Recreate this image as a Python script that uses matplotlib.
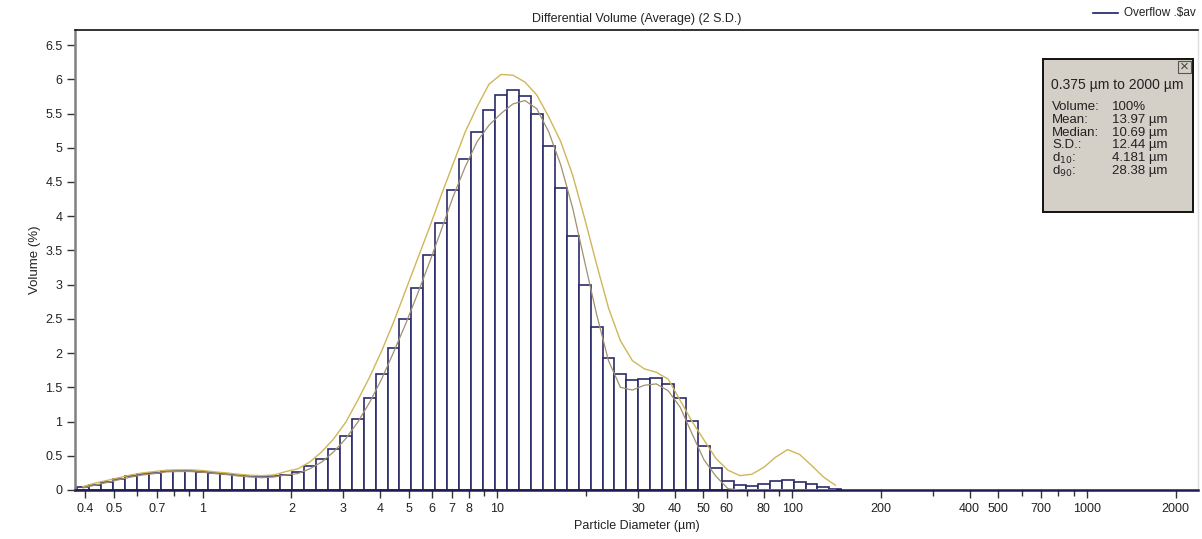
import numpy as np
import matplotlib.pyplot as plt
from matplotlib.lines import Line2D
from matplotlib.patches import Rectangle
from matplotlib.ticker import FixedLocator, NullFormatter

plt.rcParams['font.family'] = ['Liberation Sans', 'DejaVu Sans']

# LS 13 320 channels: 92 log-spaced classes from 0.375 to 2000 um
size_min, size_max, n_channels = 0.375, 2000.0, 92

# differential volume (%) of the first 64 channels (the rest are empty)
volume = [
    0.04, 0.08, 0.12, 0.16, 0.20, 0.23, 0.25, 0.276, 0.276, 0.276,
    0.266, 0.247, 0.233, 0.213, 0.20, 0.19, 0.20, 0.22, 0.257, 0.349,
    0.46, 0.60, 0.79, 1.04, 1.34, 1.70, 2.07, 2.50, 2.95, 3.43,
    3.90, 4.38, 4.84, 5.23, 5.55, 5.77, 5.85, 5.76, 5.49, 5.02,
    4.41, 3.71, 2.99, 2.38, 1.93, 1.70, 1.61, 1.62, 1.64, 1.55,
    1.34, 1.01, 0.64, 0.32, 0.135, 0.068, 0.063, 0.092, 0.135, 0.15,
    0.12, 0.083, 0.04, 0.015,
]
# average + 2 S.D.
volume_hi = [
    0.05, 0.10, 0.14, 0.18, 0.22, 0.25, 0.27, 0.29, 0.295, 0.295,
    0.285, 0.265, 0.25, 0.23, 0.215, 0.21, 0.22, 0.27, 0.31, 0.41,
    0.56, 0.75, 0.99, 1.31, 1.65, 2.03, 2.45, 2.91, 3.37, 3.83,
    4.31, 4.77, 5.23, 5.60, 5.93, 6.07, 6.06, 5.96, 5.77, 5.45,
    5.09, 4.60, 3.97, 3.30, 2.66, 2.18, 1.89, 1.77, 1.72, 1.62,
    1.31, 1.00, 0.73, 0.46, 0.29, 0.21, 0.23, 0.33, 0.48, 0.59,
    0.52, 0.36, 0.19, 0.07,
]
# average - 2 S.D.
volume_lo = [
    0.03, 0.07, 0.11, 0.15, 0.19, 0.22, 0.24, 0.265, 0.27, 0.27,
    0.26, 0.24, 0.225, 0.205, 0.19, 0.18, 0.19, 0.22, 0.24, 0.31,
    0.41, 0.56, 0.75, 0.99, 1.28, 1.62, 2.01, 2.42, 2.86, 3.32,
    3.80, 4.29, 4.72, 5.09, 5.33, 5.50, 5.64, 5.69, 5.57, 5.23,
    4.75, 4.12, 3.34, 2.57, 1.89, 1.50, 1.46, 1.53, 1.55, 1.45,
    1.21, 0.82, 0.44, 0.20, 0.02, 0.0, 0.0, 0.0, 0.0, 0.0,
    0.0, 0.0, 0.0, 0.0,
]

x_major = [0.4, 0.5, 0.7, 1, 2, 3, 4, 5, 6, 7, 8, 10, 30, 40, 50, 60, 80, 100,
           200, 400, 500, 700, 1000, 2000]
x_minor = [0.6, 0.8, 0.9, 9, 20, 70, 90, 300, 600, 800, 900]
y_ticks = np.arange(0, 6.51, 0.5)

stats_labels = ['Volume:', 'Mean:', 'Median:', 'S.D.:', 'd$_{10}$:', 'd$_{90}$:']
stats_values = ['100%', '13.97 µm', '10.69 µm', '12.44 µm', '4.181 µm', '28.38 µm']

W, H = 1202, 539
NAVY = '#2b2b6b'
TXT = '#222222'


def px(x, y):
    """pixel position -> figure fraction"""
    return x / W, 1 - y / H


def draw_info_box(fig):
    x0, y0, x1, y1 = 1043, 59, 1193, 212
    l, b = px(x0, y1)
    fig.patches.append(Rectangle((l, b), (x1 - x0) / W, (y1 - y0) / H,
                                 transform=fig.transFigure, facecolor='#d4d0c8',
                                 edgecolor='#111111', linewidth=1.4, zorder=5))
    # close button
    l, b = px(x1 - 15, y0 + 14)
    fig.patches.append(Rectangle((l, b), 13 / W, 12 / H, transform=fig.transFigure,
                                 facecolor='#d4d0c8', edgecolor='#555555',
                                 linewidth=0.8, zorder=6))
    fig.text(*px(x1 - 8.5, y0 + 8), '×', fontsize=11, color='#444444',
             ha='center', va='center', zorder=7)
    fig.text(*px(x0 + 8, 85), f'{size_min} µm to {size_max:.0f} µm', fontsize=10,
             color=TXT, va='center', zorder=7)
    for i, (lab, val) in enumerate(zip(stats_labels, stats_values)):
        y = 107 + 12.8 * i
        fig.text(*px(x0 + 9, y), lab, fontsize=9.5, color=TXT, va='center', zorder=7)
        fig.text(*px(x0 + 69, y), val, fontsize=9.5, color=TXT, va='center', zorder=7)


def main() -> None:
    edges = np.geomspace(size_min, size_max, n_channels + 1)
    n = len(volume)
    left = edges[:n]
    width = edges[1:n + 1] - edges[:n]
    centers = np.sqrt(edges[:n] * edges[1:n + 1])

    fig = plt.figure(figsize=(W / 100, H / 100), dpi=100)
    ax = fig.add_axes([75 / W, 1 - 490 / H, (1198 - 75) / W, (490 - 30) / H])
    ax.set_xscale('log')

    ax.bar(left, volume, width=width, align='edge', facecolor='white',
           edgecolor=NAVY, linewidth=1.2, zorder=2)
    ax.plot(centers, volume_hi, color='#d0b658', linewidth=1.0, zorder=3)
    ax.plot(centers, volume_lo, color='#a0906e', linewidth=0.9, zorder=3)

    ax.set_xlim(0.369, 2380)
    ax.set_ylim(0, 6.72)

    ax.xaxis.set_major_locator(FixedLocator(x_major))
    ax.set_xticklabels([f'{v:g}' for v in x_major])
    ax.xaxis.set_minor_locator(FixedLocator(x_minor))
    ax.xaxis.set_minor_formatter(NullFormatter())
    ax.set_yticks(y_ticks)
    ax.set_yticklabels([f'{v:g}' for v in y_ticks])
    ax.tick_params(which='both', direction='out', length=6, width=1,
                   color='#333333', labelsize=9, labelcolor=TXT, pad=3)
    ax.tick_params(which='minor', length=4)

    ax.spines['left'].set_color('#808080')
    ax.spines['left'].set_linewidth(1.8)
    ax.spines['bottom'].set_color('#1c1c50')
    ax.spines['bottom'].set_linewidth(1.8)
    ax.spines['top'].set_color('#111111')
    ax.spines['top'].set_linewidth(1.2)
    ax.spines['right'].set_color('#dddddd')
    ax.spines['right'].set_linewidth(1.0)

    ax.set_xlabel('Particle Diameter (µm)', fontsize=9, color=TXT, labelpad=4)
    ax.set_ylabel('Volume (%)', fontsize=9.5, color=TXT, labelpad=3)
    fig.text(*px(637, 19), 'Differential Volume (Average) (2 S.D.)', fontsize=9,
             color=TXT, ha='center', va='center')

    # legend entry
    xa, ya = px(1093, 13)
    xb, _ = px(1118, 13)
    fig.lines.append(Line2D([xa, xb], [ya, ya], transform=fig.transFigure,
                            color='#1c1c66', linewidth=1.2))
    fig.text(*px(1124, 13), r'Overflow .\$av', fontsize=8.5, color=TXT, va='center')

    draw_info_box(fig)

    fig.savefig('out.png', dpi=100)


if __name__ == "__main__":
    main()
